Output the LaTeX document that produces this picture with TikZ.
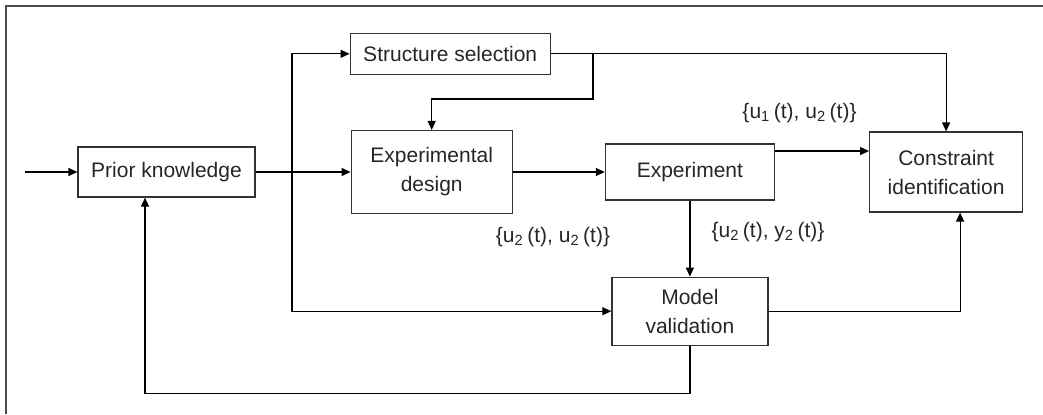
\documentclass[tikz,border=0pt]{standalone}
\usepackage{fontspec}
\setmainfont{Liberation Sans}
\usetikzlibrary{positioning, arrows.meta}

\begin{document}
\begin{tikzpicture}[
                x=0.5pt, y=-0.5pt,
                ->,
                >={Triangle[length=4.5pt,width=4pt]},
                line width=0.6pt,
                node distance=1cm,
                every node/.style={font=\fontsize{10.5}{14.5}\selectfont, text=black!85},
                block/.style={draw=black!80, align=center, inner sep=0pt}
              ]
              \useasboundingbox (0,0) rectangle (1043,414);
              \draw[-, line width=1pt, black!70] (6,414) -- (6,6) -- (1043,6);

              % Blocks
              \node[block, minimum width=88.5pt, minimum height=25pt] (prior) at (166.5,172) {Prior knowledge};
              \node[block, minimum width=80.5pt, minimum height=41.5pt, right=47.5pt of prior] (design) {Experimental\\design};
              \node[block, minimum width=84.5pt, minimum height=28pt, right=46pt of design] (exper) {Experiment};
              \node[block, minimum width=76.5pt, minimum height=40pt, right=47pt of exper] (constr) {Constraint\\identification};
              \node[block, minimum width=100pt, minimum height=20.5pt, above right=27.5pt and -0.5pt of design.north west] (struct) {Structure selection};
              \node[block, minimum width=78pt, minimum height=34pt, below=38pt of exper] (valid) {Model\\validation};

              % Signals
              \node (sig1) at (799.5,112.7) {\{u\textsubscript{1}\,(t), u\textsubscript{2}\,(t)\}};
              \node (sig2) at (553,236.7) {\{u\textsubscript{2}\,(t), u\textsubscript{2}\,(t)\}};
              \node (sig3) at (768,231.7) {\{u\textsubscript{2}\,(t), y\textsubscript{2}\,(t)\}};

              % Connections
              \coordinate (input) at (25,172);
              \coordinate (split) at (292,172);
              \coordinate (tap) at (593,53.5);
              \coordinate (bend) at (593,99);
              \draw (input) -- (prior);
              \draw (prior.east) -- (prior.east -| design.west);
              \draw (split) |- (struct);
              \draw (split) |- (valid);
              \draw (struct) -| (constr);
              \draw (tap) -- (bend) -| (design);
              \draw (design.east) -- (design.east -| exper.west);
              \draw ([yshift=10.5pt]exper.east) -- ([yshift=10.5pt]exper.east -| constr.west);
              \draw (exper) -- (valid);
              \draw (valid) -| ([xshift=7pt]constr.south);
              \draw (valid.south) -- ++(0,48) -| ([xshift=-10.75pt]prior.south);
\end{tikzpicture}
\end{document}
